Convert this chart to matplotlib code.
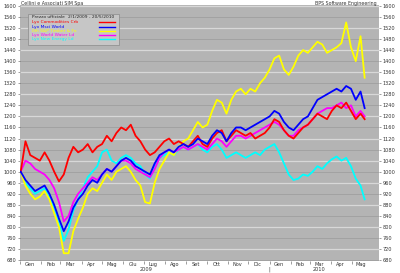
import matplotlib
matplotlib.use("Agg")
import matplotlib.pyplot as plt
from matplotlib.patches import Rectangle
import pandas as pd

# weekly closes (Fridays) from 2 Jan 2009, last point 20 May 2010, base 1000
dates = list(pd.date_range("2009-01-02", periods=72, freq="7D")) + [pd.Timestamp("2010-05-20")]

red = [1000, 1110, 1060, 1050, 1040,
       1070, 1040, 1000, 965,
       990, 1050, 1090, 1070,
       1080, 1100, 1070, 1090,
       1100, 1130, 1110, 1140, 1160,
       1150, 1170, 1130, 1110,
       1080, 1060, 1070, 1090, 1110,
       1120, 1100, 1110, 1100,
       1090, 1110, 1130, 1100,
       1090, 1120, 1140, 1150, 1110,
       1130, 1150, 1140, 1130,
       1140, 1120, 1130, 1140,
       1160, 1190, 1180, 1150, 1130,
       1120, 1140, 1160, 1170,
       1190, 1210, 1200, 1190,
       1220, 1240, 1230, 1250, 1220,
       1190, 1210, 1190]

blue = [1000, 970, 950, 930, 940,
        950, 920, 880, 830,
        785, 820, 870, 900,
        920, 950, 970, 960,
        990, 1010, 1000, 1020, 1040,
        1050, 1040, 1020, 1010,
        1000, 990, 1030, 1060, 1070,
        1080, 1070, 1090, 1100,
        1090, 1100, 1120, 1110,
        1100, 1130, 1150, 1140, 1110,
        1140, 1160, 1160, 1150,
        1160, 1170, 1180, 1190,
        1200, 1220, 1210, 1180, 1160,
        1150, 1170, 1190, 1200,
        1230, 1260, 1270, 1280,
        1290, 1300, 1290, 1310, 1300,
        1260, 1290, 1230]

yellow = [1000, 950, 920, 900, 910,
          930, 900, 850, 800,
          705, 705, 785, 830,
          870, 920, 940, 930,
          960, 990, 970, 1000, 1010,
          1020, 1000, 970, 950,
          890, 885, 960, 1010, 1040,
          1070, 1060, 1090, 1110,
          1120, 1150, 1180, 1160,
          1170, 1220, 1260, 1250, 1210,
          1260, 1290, 1300, 1280,
          1300, 1290, 1320, 1340,
          1370, 1410, 1420, 1370, 1350,
          1380, 1420, 1440, 1430,
          1450, 1470, 1460, 1430,
          1440, 1450, 1465, 1540, 1450,
          1400, 1490, 1340]

magenta = [1000, 1040, 1030, 1010, 1000,
           990, 970, 940, 890,
           820, 840, 890, 920,
           940, 960, 980, 970,
           990, 1010, 1000, 1020, 1040,
           1040, 1030, 1010, 1000,
           990, 980, 1010, 1050, 1070,
           1080, 1070, 1080, 1090,
           1080, 1090, 1100, 1090,
           1080, 1100, 1120, 1110, 1090,
           1110, 1130, 1130, 1120,
           1130, 1140, 1150, 1160,
           1170, 1180, 1170, 1150, 1130,
           1130, 1150, 1160, 1170,
           1190, 1210, 1220, 1230,
           1230, 1240, 1250, 1230, 1240,
           1200, 1220, 1200]

cyan = [1000, 960, 940, 920, 930,
        940, 910, 870, 820,
        750, 790, 860, 900,
        940, 980, 1000, 1020,
        1070, 1080, 1040, 1030, 1050,
        1060, 1050, 1030, 1020,
        990, 975, 1020, 1050, 1060,
        1070, 1060, 1080, 1090,
        1080, 1090, 1100, 1080,
        1070, 1090, 1100, 1080, 1050,
        1060, 1070, 1060, 1050,
        1060, 1070, 1060, 1080,
        1090, 1100, 1070, 1030, 990,
        970, 975, 990, 985,
        1000, 1020, 1010, 1030,
        1045, 1055, 1040, 1050, 1020,
        975, 950, 900]

series_names = ["Lyx Commodities Crb", "Lyx Msci World", "iSh S&P Timber & Fo",
                "Lyx World Water Ld", "Lyx New Energy Ld"]
series_colors = ["#ff0000", "#0000ff", "#ffff00", "#ff00ff", "#00ffff"]
month_labels = ["Gen", "Feb", "Mar", "Apr", "Mag", "Giu", "Lug", "Ago", "Set",
                "Ott", "Nov", "Dic", "Gen", "Feb", "Mar", "Apr", "Mag"]
yticks = list(range(680, 1601, 40))
title_left = "Cellini e Associati SIM Spa"
title_right = "BPS Software Engineering"
legend_title = "Prezzo ufficiale"
legend_range = "2/1/2009 - 20/5/2010"

W, H = 400.0, 273.0
AX_L, AX_R, AX_T, AX_B = 20.0, 379.0, 5.0, 261.0

fig = plt.figure(figsize=(4.0, 2.73), dpi=100)
fig.patch.set_facecolor("white")
ax = fig.add_axes([AX_L / W, 1 - AX_B / H, (AX_R - AX_L) / W, (AX_B - AX_T) / H])
ax.set_facecolor("#b4b4b4")

data = [red, blue, yellow, magenta, cyan]
order = [4, 2, 3, 0, 1]
for i in order:
    ax.plot(dates, data[i], color=series_colors[i], lw=1.3, zorder=3)

ax.set_ylim(677, 1603)
ax.set_xlim(pd.Timestamp("2009-01-01"), pd.Timestamp("2010-06-10"))

# horizontal grid: alternating light / dark
for v in yticks:
    idx = (v - 680) // 40
    if idx % 2 == 1:
        ax.axhline(v, color="#d8d8d8", lw=0.9, zorder=1)
    else:
        ax.axhline(v, color="#a2a2a2", lw=0.7, zorder=1)

ax.set_yticks(yticks)
ax.set_yticklabels([str(v) for v in yticks])
ax.tick_params(axis="y", which="both", labelsize=3.6, labelcolor="#333333",
               length=1.5, width=0.4, color="#555555", left=True, right=True,
               labelleft=True, labelright=True, pad=1)

month_starts = pd.date_range("2009-01-01", "2010-05-01", freq="MS")
ax.set_xticks(month_starts)
ax.set_xticklabels([""] * len(month_starts))
mids = [d + pd.Timedelta(days=14) for d in month_starts]
ax.set_xticks(mids, minor=True)
ax.set_xticklabels(month_labels, minor=True)
ax.tick_params(axis="x", which="major", length=2.5, width=0.4, color="#555555")
ax.tick_params(axis="x", which="minor", length=0, labelsize=3.6,
               labelcolor="#333333", pad=0.8)

for s in ax.spines.values():
    s.set_visible(False)

# year labels and separator
ytxt = -(267.0 - AX_B) / (AX_B - AX_T)
xt = ax.get_xaxis_transform()
ax.text(pd.Timestamp("2009-07-05"), ytxt, "2009", transform=xt,
        ha="center", va="top", fontsize=3.6, color="#333333", clip_on=False)
ax.text(pd.Timestamp("2010-03-15"), ytxt, "2010", transform=xt,
        ha="center", va="top", fontsize=3.6, color="#333333", clip_on=False)
ax.text(pd.Timestamp("2010-01-01"), ytxt, "|", transform=xt,
        ha="center", va="top", fontsize=3.6, color="#333333", clip_on=False)

# titles
fig.text(21 / W, 1 - 3.5 / H, title_left, fontsize=3.4, color="#333333", va="center", ha="left")
fig.text(377 / W, 1 - 3.5 / H, title_right, fontsize=3.4, color="#333333", va="center", ha="right")

# legend box drawn in axes coordinates
def ax_xy(px, py):
    return ((px - AX_L) / (AX_R - AX_L), (AX_B - py) / (AX_B - AX_T))

x0, y0 = ax_xy(28, 45)
x1, y1 = ax_xy(119, 14)
ax.add_patch(Rectangle((x0, y0), x1 - x0, y1 - y0, transform=ax.transAxes,
                       facecolor="#c6c6c6", edgecolor="#8a8a8a", lw=0.5, zorder=5))
hx, hy = ax_xy(31.5, 17.3)
ax.text(hx, hy, legend_title, transform=ax.transAxes, fontsize=3.2, color="#222222",
        va="center", ha="left", zorder=6)
rx, _ = ax_xy(68, 17.3)
ax.text(rx, hy, legend_range, transform=ax.transAxes, fontsize=3.2, color="#222222",
        va="center", ha="left", zorder=6)
row_y = [22.3, 26.6, 30.8, 35.0, 39.3]
lx0, _ = ax_xy(99, 0)
lx1, _ = ax_xy(115, 0)
for name, col, py in zip(series_names, series_colors, row_y):
    tx, ty = ax_xy(31.5, py)
    ax.text(tx, ty, name, transform=ax.transAxes, fontsize=3.2, color=col,
            va="center", ha="left", zorder=6)
    ax.plot([lx0, lx1], [ty, ty], transform=ax.transAxes, color=col, lw=1.0, zorder=6)

fig.savefig("out.png", dpi=100, facecolor="white")
